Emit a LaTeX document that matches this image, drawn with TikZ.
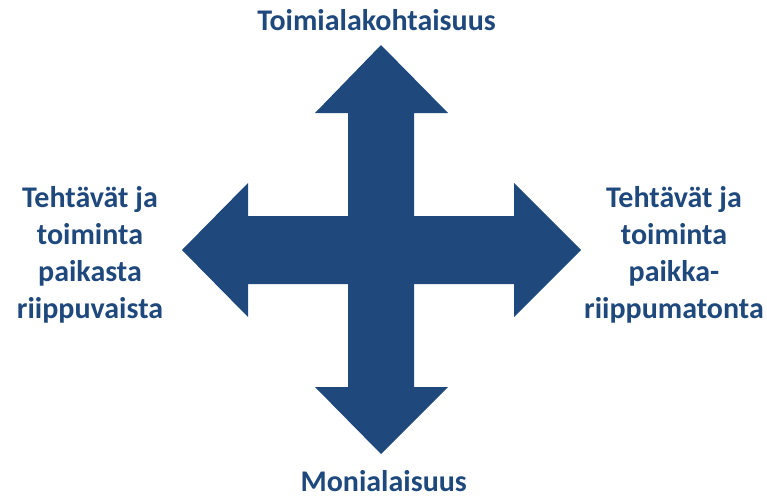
\documentclass[tikz,border=0pt]{standalone}
\usepackage{fontspec}
\setmainfont{Carlito}
\definecolor{crossBlue}{HTML}{1F497D}
\begin{document}
\begin{tikzpicture}[x=1pt, y=-1pt,
		lbl/.style={text=crossBlue, inner sep=0pt, align=center, font=\fontsize{30}{37}\selectfont\bfseries}]
		\useasboundingbox (0,0) rectangle (767,496);

		% draw cross of four arrows
		\fill[crossBlue] (348,113) -- (315,113) -- (381,45) -- (448,113) -- (414,113)
			-- (414,216) -- (514,216) -- (514,183) -- (581,250) -- (514,317) -- (514,284)
			-- (414,284) -- (414,387) -- (448,387) -- (381,454) -- (315,387) -- (348,387)
			-- (348,284) -- (248,284) -- (248,317) -- (182,250) -- (248,183) -- (248,216)
			-- (348,216) -- cycle;

		% draw labels
		\node[lbl, anchor=base](topLabel) at (376.5,30){Toimialakohtaisuus};
		\node[lbl, anchor=base](bottomLabel) at (383.7,491){Monialaisuus};
		\node[lbl](leftLabel) at (90,255){Teht\"av\"at ja\\toiminta\\paikasta\\riippuvaista};
		\node[lbl](rightLabel) at (674,255){Teht\"av\"at ja\\toiminta\\paikka-\\riippumatonta};

	\end{tikzpicture}
\end{document}
